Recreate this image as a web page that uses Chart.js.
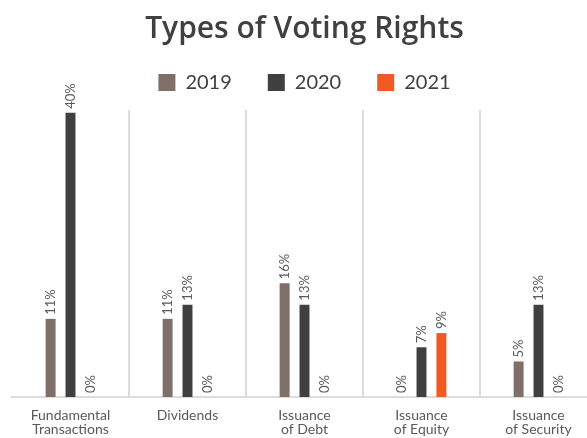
<!DOCTYPE html>
<html>
<head>
<meta charset="utf-8">
<script src="https://cdn.jsdelivr.net/npm/chart.js@4"></script>
<style>
html,body{margin:0;padding:0;background:#fff;overflow:hidden;}
#wrap{width:610px;height:438px;}
</style>
</head>
<body>
<div id="wrap"><canvas id="c" width="610" height="438"></canvas></div>
<script>
const categories = [["Fundamental","Transactions"],"Dividends",["Issuance","of Debt"],["Issuance","of Equity"],["Issuance","of Security"]];
const seriesNames = ["2019","2020","2021"];
const values2019 = [11, 11, 16, 0, 5];
const values2020 = [40, 13, 13, 7, 13];
const values2021 = [0, 0, 0, 9, 0];
const colors = ["#7f6f68", "#404040", "#f15a22"];
const FONT = "Lato";

const labelPlugin = {
  id: "barLabels",
  afterDatasetsDraw(chart) {
    const ctx = chart.ctx;
    ctx.save();
    ctx.font = "13px " + FONT;
    ctx.fillStyle = "#595959";
    ctx.textAlign = "left";
    ctx.textBaseline = "middle";
    chart.data.datasets.forEach((ds, i) => {
      const meta = chart.getDatasetMeta(i);
      meta.data.forEach((bar, j) => {
        ctx.save();
        ctx.translate(bar.x, bar.y - 4);
        ctx.rotate(-Math.PI / 2);
        ctx.fillText(ds.data[j] + "%", 0, 0);
        ctx.restore();
      });
    });
    ctx.restore();
  }
};

new Chart(document.getElementById("c"), {
  type: "bar",
  data: {
    labels: categories,
    datasets: [
      { label: seriesNames[0], data: values2019, backgroundColor: colors[0] },
      { label: seriesNames[1], data: values2020, backgroundColor: colors[1] },
      { label: seriesNames[2], data: values2021, backgroundColor: colors[2] }
    ]
  },
  options: {
    responsive: false,
    animation: false,
    layout: { padding: { left: 12, right: 13, top: 0, bottom: -9 } },
    datasets: { bar: { categoryPercentage: 0.51, barPercentage: 0.5 } },
    plugins: {
      title: {
        display: true,
        text: "Types of Voting Rights",
        color: "#404040",
        font: { family: "Open Sans", size: 30, weight: 600, lineHeight: 0.4533 },
        padding: { top: 23, bottom: 0 }
      },
      subtitle: {
        display: true,
        text: "",
        position: "top",
        weight: 500,
        font: { size: 7.4, lineHeight: 1 },
        padding: 0
      },
      legend: {
        display: true,
        position: "top",
        labels: {
          boxWidth: 17, boxHeight: 17,
          color: "#404040",
          font: { family: FONT, size: 20 },
          padding: 36
        }
      },
      tooltip: { enabled: false }
    },
    scales: {
      x: {
        grid: {
          display: true,
          offset: true,
          drawTicks: false,
          lineWidth: 2,
          color: (c) => (c.index === 0 ? "rgba(0,0,0,0)" : "#dcdcdc")
        },
        border: { display: true, color: "#dcdcdc", width: 2 },
        ticks: {
          color: "#595959",
          font: { family: FONT, size: 14, lineHeight: 1.0 },
          padding: 11,
          maxRotation: 0,
          autoSkip: false
        }
      },
      y: {
        display: false,
        min: 0,
        max: 40.4
      }
    }
  },
  plugins: [labelPlugin]
});
</script>
</body>
</html>
